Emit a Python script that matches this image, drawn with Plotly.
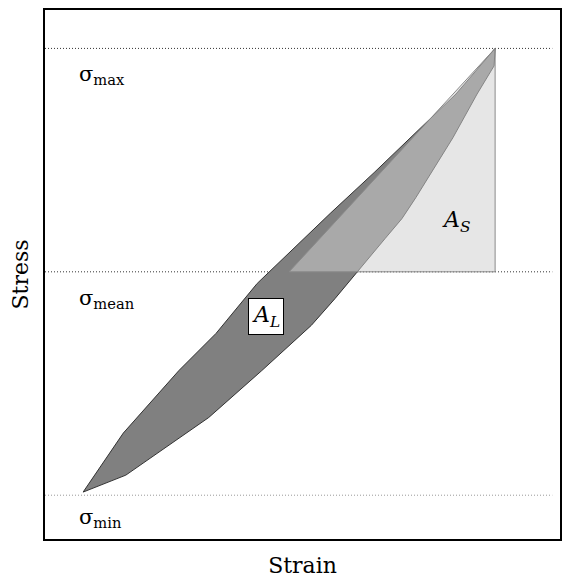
import plotly.graph_objects as go

# hysteresis loop, loading (upper) branch then unloading (lower) branch
upper_strain = [7.4, 15.2, 26.0, 33.2, 41.2, 47.8, 55.5, 63.9, 71.3, 79.8, 87.4]
upper_stress = [0.7, 13.9, 27.9, 36.2, 47.4, 54.7, 63.2, 72.2, 80.4, 89.8, 100.0]
lower_strain = [87.4, 87.2, 83.9, 79.2, 72.0, 69.3, 66.0, 60.6, 56.3, 51.7, 42.1, 31.8, 15.7, 7.4]
lower_stress = [100.0, 96.1, 89.8, 80.0, 66.6, 61.9, 57.4, 50.0, 44.0, 38.0, 27.9, 17.4, 4.5, 0.7]

# storage triangle
tri_strain = [47.4, 87.4, 87.4, 47.4]
tri_stress = [50.0, 50.0, 100.0, 50.0]

# stress levels and labels
levels = [100.0, 50.0, 0.0]
level_labels = ["σ<sub>max</sub>", "σ<sub>mean</sub>", "σ<sub>min</sub>"]
level_colors = ["#333333", "#333333", "#999999"]

FONT = "DejaVu Serif"

fig = go.Figure()
fig.add_trace(go.Scatter(
    x=upper_strain + lower_strain,
    y=upper_stress + lower_stress,
    mode="lines",
    fill="toself",
    fillcolor="#808080",
    line=dict(color="#333333", width=1),
    hoverinfo="skip",
))
fig.add_trace(go.Scatter(
    x=tri_strain,
    y=tri_stress,
    mode="lines",
    fill="toself",
    fillcolor="rgba(207,207,207,0.52)",
    line=dict(color="#8a8a8a", width=1),
    hoverinfo="skip",
))

for lv, col in zip(levels, level_colors):
    fig.add_shape(type="line", xref="paper", x0=0, x1=0.985, y0=lv, y1=lv,
                  line=dict(color=col, width=1, dash="1px,2px"), layer="below")

label_y = [94.0, 44.0, -5.0]
for lab, ly in zip(level_labels, label_y):
    fig.add_annotation(x=6.2, y=ly, text=lab, showarrow=False, xanchor="left",
                       yanchor="middle", font=dict(family=FONT, size=21, color="black"))

fig.add_annotation(x=42.9, y=40.0, text="<i>A<sub>L</sub></i>", showarrow=False,
                   bgcolor="white", bordercolor="black", borderwidth=1, borderpad=3,
                   font=dict(family=FONT, size=22, color="black"))
fig.add_annotation(x=79.8, y=61.2, text="<i>A<sub>S</sub></i>", showarrow=False,
                   font=dict(family=FONT, size=22, color="black"))

axis_common = dict(showgrid=False, zeroline=False, showticklabels=False, ticks="",
                   showline=True, mirror=True, linecolor="black", linewidth=2,
                   automargin=False)
fig.update_xaxes(range=[0, 100], title=dict(text="Strain", standoff=18,
                 font=dict(family=FONT, size=22, color="black")), **axis_common)
fig.update_yaxes(range=[-9.8, 108.6], title=dict(text="Stress", standoff=30,
                 font=dict(family=FONT, size=22, color="black")), **axis_common)

fig.update_layout(
    width=563,
    height=572,
    margin=dict(l=37, r=11, t=2, b=41),
    plot_bgcolor="white",
    paper_bgcolor="white",
    showlegend=False,
)
fig.write_html("out.html")
